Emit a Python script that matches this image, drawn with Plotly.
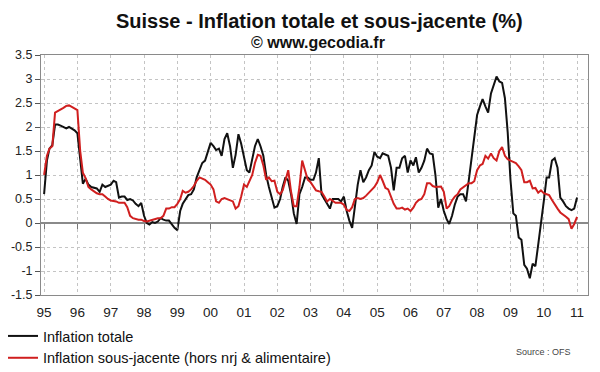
import pandas as pd
import plotly.graph_objects as go

# Monthly data, Jan 1995 .. Jan 2011
months = pd.date_range("1995-01-01", periods=193, freq="MS")

inflation_totale = [
    0.6, 1.3, 1.55, 1.62, 2.05, 2.05, 2.03, 2.0, 1.97, 2.0, 1.97, 1.93,      # 1995
    1.87, 1.3, 0.82, 0.92, 0.8, 0.75, 0.73, 0.72, 0.65, 0.8, 0.75, 0.77,     # 1996
    0.8, 0.88, 0.85, 0.53, 0.55, 0.55, 0.48, 0.5, 0.47, 0.4, 0.35, 0.42,     # 1997
    0.15, 0.0, -0.03, 0.02, 0.0, 0.03, 0.1, 0.07, 0.05, 0.05, -0.03, -0.1,   # 1998
    -0.15, 0.25, 0.4, 0.5, 0.58, 0.6, 0.7, 0.95, 1.1, 1.25, 1.3, 1.5,        # 1999
    1.67, 1.6, 1.52, 1.55, 1.4, 1.75, 1.87, 1.6, 1.15, 1.42, 1.85, 1.65,     # 2000
    1.4, 1.1, 1.05, 1.3, 1.6, 1.75, 1.6, 1.4, 1.0, 0.75, 0.5, 0.32,          # 2001
    0.35, 0.5, 0.75, 0.95, 0.88, 0.6, 0.2, -0.02, 0.6, 0.75, 0.95, 0.95,     # 2002
    0.9, 0.9, 1.05, 1.35, 0.6, 0.5, 0.4, 0.3, 0.5, 0.5, 0.5, 0.45,           # 2003
    0.55, 0.25, 0.05, -0.1, 0.4, 0.8, 1.1, 0.85, 0.95, 1.1, 1.2, 1.48,       # 2004
    1.38, 1.35, 1.45, 1.43, 1.4, 1.15, 0.68, 1.15, 1.15, 1.35, 1.4, 1.05,    # 2005
    1.3, 1.2, 1.37, 1.05, 1.15, 1.3, 1.55, 1.45, 1.43, 1.0, 0.32, 0.5,       # 2006
    0.25, 0.08, -0.02, 0.15, 0.38, 0.55, 0.6, 0.6, 0.45, 0.88, 1.35, 1.85,   # 2007
    2.25, 2.43, 2.58, 2.43, 2.3, 2.7, 2.88, 3.05, 2.95, 2.92, 2.6, 1.9,      # 2008
    0.9, 0.2, 0.15, -0.3, -0.35, -0.87, -0.95, -1.15, -0.85, -0.9, -0.45, -0.05,  # 2009
    0.45, 0.95, 0.95, 1.3, 1.35, 1.15, 0.53, 0.45, 0.35, 0.3, 0.27, 0.3,     # 2010
    0.53,                                                                     # 2011
]

inflation_sous_jacente = [
    1.0, 1.4, 1.55, 1.6, 2.3, 2.33, 2.36, 2.4, 2.44, 2.45, 2.42, 2.38,       # 1995
    2.35, 1.5, 1.05, 0.93, 0.75, 0.7, 0.66, 0.62, 0.6, 0.6, 0.55, 0.5,       # 1996
    0.47, 0.46, 0.45, 0.42, 0.42, 0.42, 0.33, 0.15, 0.1, 0.08, 0.07, 0.07,   # 1997
    0.04, 0.03, 0.05, 0.07, 0.08, 0.1, 0.1, 0.15, 0.3, 0.3, 0.33, 0.33,      # 1998
    0.4, 0.5, 0.67, 0.63, 0.65, 0.7, 0.77, 0.88, 0.95, 0.93, 0.9, 0.85,      # 1999
    0.8, 0.7, 0.45, 0.42, 0.5, 0.52, 0.5, 0.47, 0.45, 0.3, 0.35, 0.55,       # 2000
    0.8, 0.75, 0.88, 1.0, 1.25, 1.42, 1.4, 1.2, 0.9, 0.95, 0.87, 0.88,       # 2001
    0.65, 0.6, 0.68, 0.9, 1.1, 0.65, 0.35, 0.35, 0.75, 1.3, 1.1, 0.9,        # 2002
    0.85, 0.75, 0.68, 0.66, 0.65, 0.55, 0.45, 0.5, 0.45, 0.42, 0.42, 0.42,   # 2003
    0.38, 0.27, 0.25, 0.33, 0.5, 0.52, 0.5, 0.52, 0.57, 0.63, 0.68, 0.75,    # 2004
    0.85, 1.0, 0.88, 0.73, 0.7, 0.55, 0.4, 0.3, 0.3, 0.32, 0.28, 0.3,        # 2005
    0.25, 0.32, 0.42, 0.48, 0.5, 0.6, 0.83, 0.83, 0.77, 0.75, 0.75, 0.76,    # 2006
    0.65, 0.3, 0.35, 0.47, 0.55, 0.6, 0.7, 0.75, 0.8, 0.83, 0.83, 0.87,      # 2007
    1.1, 1.2, 1.23, 1.4, 1.34, 1.45, 1.35, 1.3, 1.5, 1.58, 1.4, 1.33,        # 2008
    1.3, 1.28, 1.25, 1.18, 1.1, 0.85, 0.85, 0.88, 0.72, 0.73, 0.63, 0.68,    # 2009
    0.62, 0.6, 0.58, 0.48, 0.38, 0.3, 0.22, 0.18, 0.13, 0.08, -0.12, -0.02,  # 2010
    0.13,                                                                     # 2011
]

year_ticks = pd.date_range("1995-01-01", periods=17, freq="YS")
year_labels = ["95", "96", "97", "98", "99", "00", "01", "02", "03",
               "04", "05", "06", "07", "08", "09", "10", "11"]
y_ticks = [3.5, 3, 2.5, 2, 1.5, 1, 0.5, 0, -0.5, -1, -1.5]
y_labels = ["3.5", "3", "2.5", "2", "1.5", "1", "0.5", "0", "-0.5", "-1", "-1.5"]

FONT = "Arial, Liberation Sans, sans-serif"
x_range = ["1994-11-28", "2011-05-01"]

fig = go.Figure()
fig.add_trace(go.Scatter(x=months, y=inflation_totale, mode="lines",
                         name="Inflation totale",
                         line=dict(color="#111111", width=2)))
fig.add_trace(go.Scatter(x=months, y=inflation_sous_jacente, mode="lines",
                         name="Inflation sous-jacente (hors nrj & alimentaire)",
                         line=dict(color="#d01f1f", width=2)))
# invisible trace to carry the tick axis at the zero line
fig.add_trace(go.Scatter(x=[months[0]], y=[0], xaxis="x2", mode="markers",
                         marker=dict(opacity=0), showlegend=False, hoverinfo="skip"))

# the page has an 8px body margin, so the figure is drawn 8px smaller
fig.update_layout(
    width=592, height=364,
    margin=dict(l=33, r=12, t=47, b=77, autoexpand=False),
    paper_bgcolor="white", plot_bgcolor="white",
    font=dict(family=FONT, color="#222222"),
    showlegend=True,
    legend=dict(x=-38 / 547, y=-25 / 240,
                xanchor="left", yanchor="top", font=dict(size=14.5, color="#111"),
                bgcolor="rgba(0,0,0,0)", tracegroupgap=0, itemwidth=30),
    xaxis=dict(type="date", range=x_range, tickvals=year_ticks, ticktext=year_labels,
               showgrid=True, gridcolor="#c4c4c4", griddash="dot", gridwidth=1,
               showline=True, linecolor="#8a8a8a", linewidth=1, mirror=True,
               ticks="", zeroline=False, tickfont=dict(size=13.5, color="#222"),
               tickangle=0, ticklabelstandoff=5),
    xaxis2=dict(type="date", range=x_range, overlaying="x", anchor="free", position=0.3,
                tickvals=year_ticks, showticklabels=False, ticks="outside",
                ticklen=5, tickcolor="#777", tickwidth=1, showgrid=False,
                showline=False, zeroline=False),
    yaxis=dict(range=[-1.5, 3.5], tickvals=y_ticks, ticktext=y_labels,
               showgrid=True, gridcolor="#c4c4c4", griddash="dot", gridwidth=1,
               showline=True, linecolor="#8a8a8a", linewidth=1, mirror=True,
               ticks="outside", ticklen=5, tickcolor="#555",
               zeroline=True, zerolinecolor="#8a8a8a", zerolinewidth=1.5,
               tickfont=dict(size=12.5, color="#222")),
    annotations=[
        dict(text="<b>Suisse - Inflation totale et sous-jacente (%)</b>",
             xref="paper", yref="paper", x=(319 - 41) / 547, y=(295 - 21) / 240,
             xanchor="center", yanchor="middle", showarrow=False,
             font=dict(size=20, color="#111", family=FONT)),
        dict(text="<b>© www.gecodia.fr</b>",
             xref="paper", yref="paper", x=(318 - 41) / 547, y=(295 - 43) / 240,
             xanchor="center", yanchor="middle", showarrow=False,
             font=dict(size=16, color="#111", family=FONT)),
        dict(text="Source : OFS", xref="paper", yref="paper",
             x=(543 - 41) / 547, y=(295 - 352) / 240,
             xanchor="center", yanchor="middle", showarrow=False,
             font=dict(size=9, color="#444", family=FONT)),
    ],
)

fig.write_html("out.html")
